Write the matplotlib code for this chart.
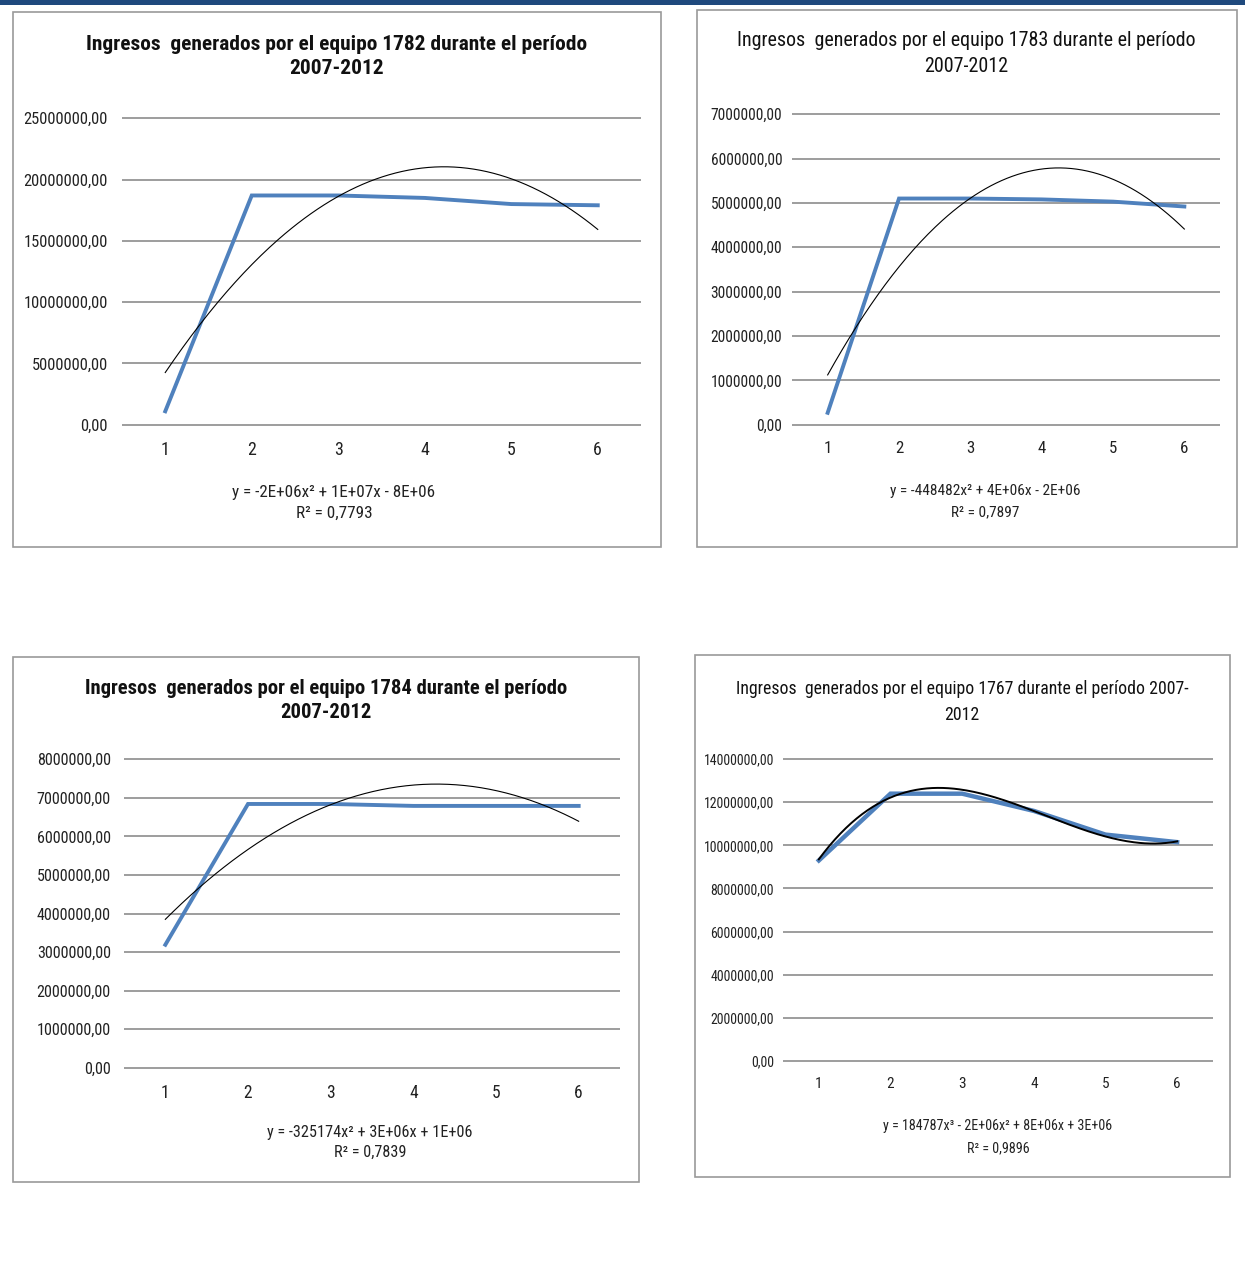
import matplotlib.pyplot as plt
import matplotlib.patches as patches
from matplotlib import font_manager
from matplotlib.textpath import TextPath
import numpy as np

# narrow font if there is one, otherwise an Arial-like one
available = set(f.name for f in font_manager.fontManager.ttflist)
family = 'DejaVu Sans'
for name in ['Liberation Sans Narrow', 'Roboto Condensed', 'Open Sans Condensed',
             'DejaVu Sans Condensed', 'Liberation Sans', 'Roboto']:
    if name in available:
        family = name
        break
plt.rcParams['font.family'] = [family, 'DejaVu Sans']

W, H = 1245, 1281

years = [1, 2, 3, 4, 5, 6]

# ingresos por equipo
ing_1782 = [1.1e6, 18.7e6, 18.7e6, 18.5e6, 18.0e6, 17.9e6]
ing_1783 = [0.27e6, 5.10e6, 5.10e6, 5.08e6, 5.03e6, 4.92e6]
ing_1784 = [3.19e6, 6.84e6, 6.84e6, 6.79e6, 6.79e6, 6.79e6]
ing_1767 = [9.3e6, 12.4e6, 12.4e6, 11.6e6, 10.5e6, 10.15e6]

titles = [['Ingresos  generados por el equipo 1782 durante el período', '2007-2012'],
          ['Ingresos  generados por el equipo 1783 durante el período', '2007-2012'],
          ['Ingresos  generados por el equipo 1784 durante el período', '2007-2012'],
          ['Ingresos  generados por el equipo 1767 durante el período 2007-', '2012']]
eq_texts = [['y = -2E+06x² + 1E+07x - 8E+06', 'R² = 0,7793'],
            ['y = -448482x² + 4E+06x - 2E+06', 'R² = 0,7897'],
            ['y = -325174x² + 3E+06x + 1E+06', 'R² = 0,7839'],
            ['y = 184787x³ - 2E+06x² + 8E+06x + 3E+06', 'R² = 0,9896']]
ymax = [25e6, 7e6, 8e6, 14e6]
ystep = [5e6, 1e6, 1e6, 2e6]
fit_deg = [2, 2, 2, 3]

# pixel layout: box (x0,y0,x1,y1), plot area (x0,x1,ytop,ybottom)
boxes = [(13, 12, 661, 547), (697, 10, 1237, 547), (13, 657, 639, 1182), (695, 655, 1230, 1177)]
areas = [(122, 641, 117, 426), (792, 1220, 113, 426), (124, 620, 758, 1069), (783, 1213, 758, 1062)]
title_y = [(44, 69), (41, 67), (688, 713), (689, 715)]
title_x = [337, 966, 326, 962]
title_w = [498, 415, 481, 402]
eq_y = [(492, 513), (491, 512), (1132, 1152), (1126, 1148)]
eq_x = [334, 985, 370, 998]
eq_w = [203, 173, 205, 203]
tick_w = [83, 64, 73, 62]
ypad = [10, 7, 9.5, 6.5]
stretch = [1.0, 1.1, 1.0, 1.12]
title_fw = ['bold', 'normal', 'bold', 'normal']
trend_lw = [0.8, 0.8, 0.8, 1.4]
blue_lw = [2.8, 2.8, 2.8, 3.2]


def fit_size(s, width_px, weight='normal', cap=30):
    fp = font_manager.FontProperties(family=[family, 'DejaVu Sans'], weight=weight)
    w = TextPath((0, 0), s, size=10, prop=fp).get_extents().width
    return min(cap, 10 * width_px * 0.72 / w)


fig = plt.figure(figsize=(W / 100, H / 100), dpi=100)

# top navy band
fig.patches.append(patches.Rectangle((0, 1 - 5 / H), 1, 5 / H, transform=fig.transFigure,
                                     facecolor='#1F497D', edgecolor='none'))

all_data = [ing_1782, ing_1783, ing_1784, ing_1767]
for i, data in enumerate(all_data):
    bx0, by0, bx1, by1 = boxes[i]
    fig.patches.append(patches.Rectangle((bx0 / W, 1 - by1 / H), (bx1 - bx0) / W, (by1 - by0) / H,
                                         transform=fig.transFigure, facecolor='none',
                                         edgecolor='#9a9a9a', linewidth=1.2))
    ax0, ax1, ayt, ayb = areas[i]
    ax = fig.add_axes([ax0 / W, 1 - ayb / H, (ax1 - ax0) / W, (ayb - ayt) / H])
    ax.patch.set_alpha(0)
    yt = np.arange(0, ymax[i] + 1, ystep[i])
    labels = ['{:.0f},00'.format(v) for v in yt]
    tfs = fit_size(labels[-1], tick_w[i]) * stretch[i]
    ax.set_xlim(0.5, 6.5)
    ax.set_yticks(yt)
    ax.set_yticklabels(labels, fontsize=tfs, color='#222222')
    ax.set_xticks(years)
    ax.set_xticklabels([str(y) for y in years], fontsize=tfs + 1, color='#222222')
    ax.tick_params(length=0, axis='y', pad=ypad[i])
    ax.tick_params(length=0, axis='x', pad=11)
    for s in ax.spines.values():
        s.set_visible(False)
    ax.grid(axis='y', color='#8c8c8c', linewidth=1.2)
    ax.set_axisbelow(True)
    ax.set_ylim(-ymax[i] * 0.004, ymax[i] * 1.004)

    ax.plot(years, data, color='#4F81BD', linewidth=blue_lw[i], solid_joinstyle='miter', zorder=3)
    coef = np.polyfit(years, data, fit_deg[i])
    xs = np.linspace(1, 6, 200)
    ax.plot(xs, np.polyval(coef, xs), color='black', linewidth=trend_lw[i], zorder=4)

    fs = fit_size(titles[i][0], title_w[i], title_fw[i]) * stretch[i]
    for line, ly in zip(titles[i], title_y[i]):
        fig.text(title_x[i] / W, 1 - ly / H, line, ha='center', va='center',
                 fontsize=fs, fontweight=title_fw[i], color='#111111')
    fs = fit_size(eq_texts[i][0], eq_w[i]) * stretch[i]
    for line, ly in zip(eq_texts[i], eq_y[i]):
        fig.text(eq_x[i] / W, 1 - ly / H, line, ha='center', va='center',
                 fontsize=fs, color='#222222')

plt.savefig('out.png', dpi=100)
